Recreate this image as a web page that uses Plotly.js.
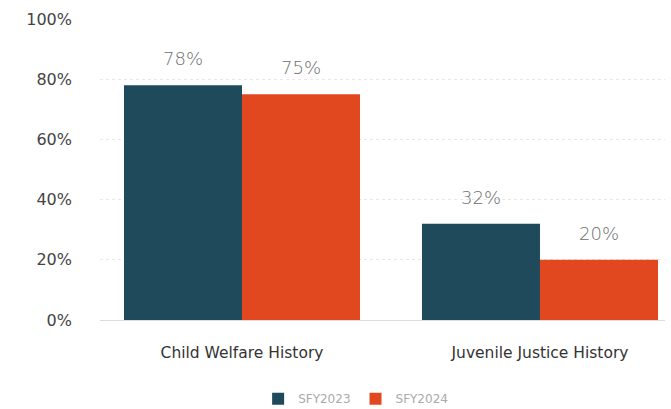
<!DOCTYPE html>
<html><head><meta charset="utf-8">
<script src="https://cdn.plot.ly/plotly-3.0.1.min.js"></script>
<style>body{margin:0;background:#fff}#c{width:671px;height:409px}</style>
</head><body><div id="c"></div>
<script>
const categories = ["Child Welfare History", "Juvenile Justice History"];
const seriesNames = ["SFY2023", "SFY2024"];
const sfy2023 = [78, 32];
const sfy2024 = [75, 20];
const yTicks = [0, 20, 40, 60, 80, 100];
const yTickLabels = ["0%", "20%", "40%", "60%", "80%", "100%"];

const colors = ["#1e4a5b", "#e2481f"];
const font = "'DejaVu Sans', sans-serif";
const series = [sfy2023, sfy2024];
const traces = series.map((vals, i) => ({
  type: "bar", x: categories, y: vals, name: seriesNames[i],
  marker: {color: colors[i]}, hoverinfo: "none"
}));
const annotations = [];
series.forEach((vals, i) => vals.forEach((v, j) => annotations.push({
  x: categories[j], y: v, xref: "x", yref: "y", text: v + "%",
  showarrow: false, yanchor: "bottom", xshift: (i - 0.5) * 118, yshift: 14,
  font: {family: font, size: 18, color: "#6e6e6e", weight: 200}
})));
Plotly.newPlot("c", traces, {
  width: 671, height: 409,
  margin: {l: 100, r: 6, t: 19, b: 89, autoexpand: false},
  paper_bgcolor: "#fff", plot_bgcolor: "#fff",
  barmode: "group", bargap: 0.208, bargroupgap: 0,
  font: {family: font, color: "#444"},
  annotations: annotations,
  xaxis: {range: [-0.4765, 1.4195], showline: false, ticks: "", tickfont: {size: 15.5, color: "#333"}, ticklabelstandoff: 21, fixedrange: true},
  yaxis: {range: [0, 100], tickvals: yTicks, ticktext: yTickLabels, showgrid: true, gridcolor: "#e8e8e8", griddash: "dot", zeroline: true, zerolinecolor: "#dcdcdc", tickfont: {size: 16, color: "#444"}, ticklabelstandoff: 27, fixedrange: true},
  legend: {orientation: "h", x: 0.53, xanchor: "center", xref: "container", yref: "container", y: 0.025, yanchor: "middle", font: {size: 12, color: "#aaa"}},
  showlegend: true
}, {staticPlot: true});
</script></body></html>
